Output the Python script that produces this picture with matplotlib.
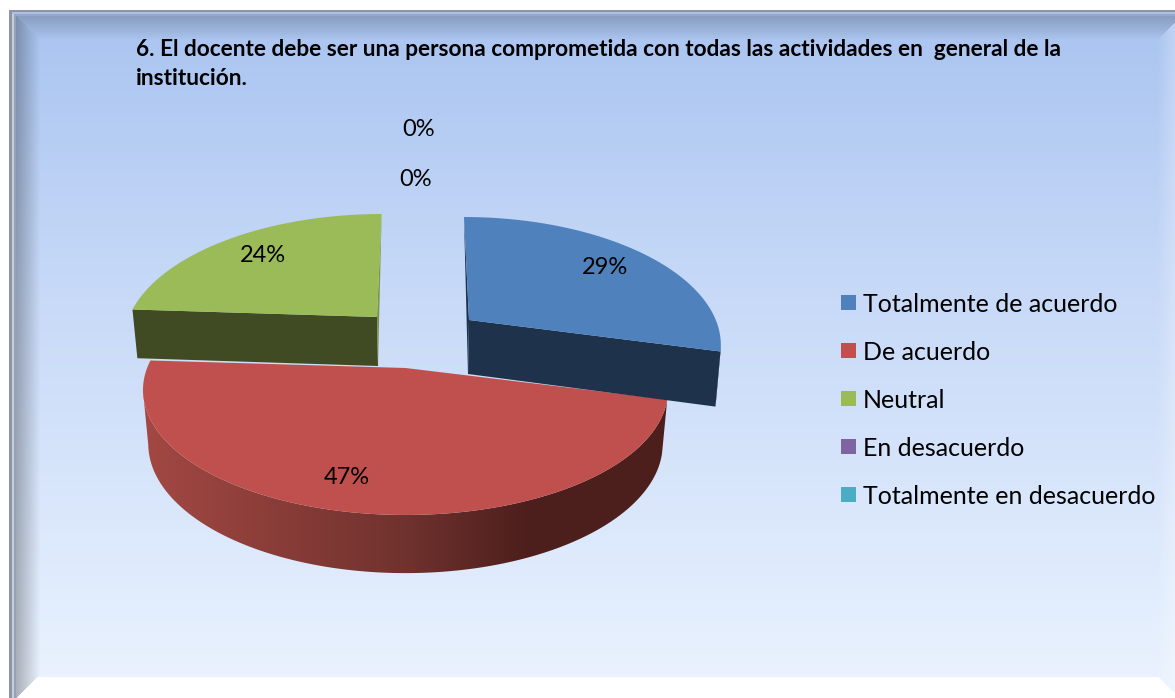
import matplotlib
matplotlib.use("Agg")
import matplotlib.pyplot as plt
import numpy as np
from matplotlib.patches import Polygon, Rectangle

plt.rcParams['font.family'] = ['Lato', 'DejaVu Sans']

W, H = 1175, 698

title = "6. El docente debe ser una persona comprometida con todas las actividades en  general de la\ninstitución."
categories = ["Totalmente de acuerdo", "De acuerdo", "Neutral", "En desacuerdo", "Totalmente en desacuerdo"]
values = [29, 47, 24, 0, 0]
colors = ["#4F81BD", "#C0504D", "#9BBB59", "#8064A2", "#4BACC6"]
side_colors = ["#1F324B", None, "#404A23"]
edge_colors = ["#1F324B", None, "#7A9446"]

# where each slice sits on the picture: apex x, apex y, x scale, shear, depth
slice_pos = [(469, 320, 0.955, 0.0485, 54),
             (405.5, 368, 1.0, 0.0, 53),
             (377, 317, 0.96, -0.045, 49)]
label_pos = [(605, 268), (347, 478), (263, 256), (419, 130), (416, 180)]

# perspective of the pie
K, A, B = 0.176, 258.4, 121.1


def project(theta, pos, bottom=False):
    ax0, ay0, sx, shear, depth = pos
    u, v = np.sin(theta), -np.cos(theta)
    d = 1 - K * v
    dx = sx * A * u / d
    dy = B * v / d
    px = dx + shear * dy
    if bottom:
        return ax0 + px * 0.98, ay0 + dy * 1.035 + depth
    return ax0 + px, ay0 + dy


def background():
    y = np.arange(H)[:, None]
    x = np.arange(W)[None, :]
    img = np.zeros((H, W, 3))
    stops = [0, 40, 300, 600, 675]
    stop_cols = np.array([(170, 196, 240), (172, 198, 241), (200, 218, 248), (226, 237, 253), (233, 242, 254)])
    for c in range(3):
        img[:, :, c] = np.interp(np.arange(H), stops, stop_cols[:, c])[:, None]

    # bevels, mitred at the corners
    left = np.clip((x - 16) / 24, 0, 1)
    top = np.clip((y - 16) / 24, 0, 1)
    right = np.clip((x - 1157) / 18, 0, 1)
    is_top = (y < 40) & (y - 16 < x - 16) & (y - 40 < 1157 - x)
    is_left = (x < 40) & (x - 16 <= y - 16) & (x - 16 < 698 - y)
    is_right = (x >= 1157) & ~is_top
    img *= (1 - (1 - top) * 0.20 * is_top)[:, :, None]
    img *= (1 - (1 - left) * 0.27 * is_left)[:, :, None]
    img += ((255 - img) * (right * 0.25 * is_right)[:, :, None])
    white = (y >= 677) & (x - 16 >= 698 - y) & (x - 1157 < y - 675)
    img[white] = 255

    # outer frame
    img[:, 14:16] = (150, 162, 182)
    img[14:16, 14:] = (150, 168, 205)
    img[:, 12:14] = (196, 206, 224)
    img[12:14, 12:] = (172, 192, 228)
    img[:, 9:12] = (142, 150, 166)
    img[10:12, 9:] = (142, 150, 166)
    img[:10] = 255
    img[:, :9] = 255
    return img.astype(np.uint8)


fig = plt.figure(figsize=(W / 100, H / 100), dpi=100)
ax = fig.add_axes([0, 0, 1, 1])
ax.imshow(background(), extent=(0, W, H, 0), interpolation='nearest', zorder=0)

fracs = np.array(values[:3]) / sum(values)
ends = np.cumsum(fracs) * 2 * np.pi
starts = np.r_[0, ends[:-1]]

draw_order = [1, 2, 0]
for n, i in enumerate(draw_order):
    pos = slice_pos[i]
    t = np.linspace(starts[i], ends[i], 300)
    tx, ty = project(t, pos)
    bx, by = project(t, pos, bottom=True)
    apex = (pos[0], pos[1])
    apex_b = (pos[0] + (-1 if i == 0 else 1), pos[1] + pos[4])
    z = 2 + n * 2
    # only the part of the outer wall that faces the viewer
    front = np.gradient(tx) < 0
    rim = np.column_stack([np.r_[tx[front], bx[front][::-1]], np.r_[ty[front], by[front][::-1]]])
    if i == 1:
        # red rim is shaded from left to right
        patch = Polygon(rim, closed=True, fc='none', ec='none', zorder=z)
        ax.add_patch(patch)
        xs = np.arange(140, 672)
        grad = np.zeros((1, len(xs), 3))
        grad_cols = np.array([(163, 72, 67), (112, 50, 46), (76, 30, 28), (76, 30, 28)])
        for c in range(3):
            grad[0, :, c] = np.interp(xs, [145, 405, 530, 670], grad_cols[:, c])
        im = ax.imshow(grad.astype(np.uint8), extent=(140, 672, 600, 340), aspect='auto', zorder=z)
        im.set_clip_path(patch)
    else:
        if front.any():
            ax.add_patch(Polygon(rim, closed=True, fc=side_colors[i], ec='none', zorder=z))
        # the cut face towards the viewer
        k = -1 if i == 0 else 0
        ax.add_patch(Polygon([apex, (tx[k], ty[k]), (bx[k], by[k]), apex_b], closed=True,
                             fc=side_colors[i], ec='none', zorder=z))
        # thin sliver on the far cut edge
        f = 0 if i == 0 else -1
        ax.add_patch(Polygon([(tx[f], ty[f]), apex, apex_b], closed=True,
                             fc=edge_colors[i], ec='none', zorder=z))
    top = np.column_stack([np.r_[pos[0], tx], np.r_[pos[1], ty]])
    ax.add_patch(Polygon(top, closed=True, fc=colors[i], ec='none', zorder=z + 1))

# labels
for (lx, ly), v in zip(label_pos, values):
    ax.text(lx, ly, f"{v}%", ha='center', va='center', fontsize=17, color='black', zorder=20)

# legend
legend_y = [304, 352, 400, 448, 496]
for name, col, ly in zip(categories, colors, legend_y):
    ax.add_patch(Rectangle((841, ly - 9), 15, 15, fc=col, ec='none', zorder=20))
    ax.text(863, ly, name, ha='left', va='center', fontsize=18, color='black', zorder=20)

ax.text(136, 64, title, ha='left', va='center', fontsize=16.3, fontweight='bold',
        linespacing=1.45, color='black', zorder=20)

ax.set_xlim(0, W)
ax.set_ylim(H, 0)
ax.axis('off')
fig.savefig("out.png", dpi=100, facecolor='white')
